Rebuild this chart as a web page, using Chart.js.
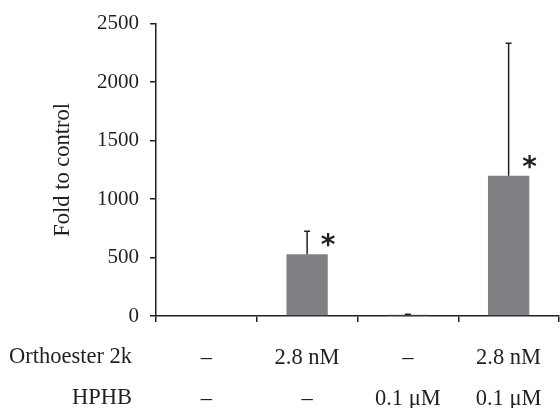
<!DOCTYPE html>
<html>
<head>
<meta charset="utf-8">
<script src="https://cdn.jsdelivr.net/npm/chart.js@4"></script>
<style>
  html, body { margin: 0; padding: 0; background: #fff; }
  #wrap { width: 560px; height: 408px; }
</style>
</head>
<body>
<div id="wrap"><canvas id="myChart" width="560" height="408"></canvas></div>
<script>
// data
const groups = ['g1', 'g2', 'g3', 'g4'];
const orthoester = ['–', '2.8 nM', '–', '2.8 nM'];
const hphb = ['–', '–', '0.1 μM', '0.1 μM'];
const foldValues = [0, 527, 10, 1200];
const foldErrors = [0, 198, 6, 1133];
const significant = [false, true, false, true];
const yTicks = [0, 500, 1000, 1500, 2000, 2500];
const rowNames = ['Orthoester 2k', 'HPHB'];

const ink = '#231f20';
const serif = '"Liberation Serif", "Times New Roman", serif';

// error bars (upward only), asterisks and the row names
const extras = {
  id: 'extras',
  afterDatasetsDraw(chart) {
    const c = chart.ctx;
    const meta = chart.getDatasetMeta(0);
    const y = chart.scales.y;
    c.save();
    c.strokeStyle = ink;
    c.lineWidth = 1.5;
    meta.data.forEach((bar, i) => {
      if (!foldErrors[i]) return;
      const top = y.getPixelForValue(foldValues[i] + foldErrors[i]);
      c.beginPath();
      c.moveTo(bar.x, bar.y);
      c.lineTo(bar.x, top);
      c.moveTo(bar.x - 3, top);
      c.lineTo(bar.x + 3, top);
      c.stroke();
    });
    c.fillStyle = ink;
    c.font = 'bold 28px "DejaVu Sans"';
    c.textAlign = 'center';
    c.textBaseline = 'alphabetic';
    const m = c.measureText('*');
    const mid = (m.actualBoundingBoxAscent - m.actualBoundingBoxDescent) / 2;
    meta.data.forEach((bar, i) => {
      if (!significant[i]) return;
      c.fillText('*', bar.x + 21, bar.y - 14 + mid);
    });
    c.font = '22.5px ' + serif;
    c.textAlign = 'right';
    c.textBaseline = 'middle';
    c.fillText(rowNames[0], 132, 357);
    c.fillText(rowNames[1], 132, 398);
    c.restore();
  }
};

const ctx = document.getElementById('myChart');

const myChart = new Chart(ctx, {
  type: 'bar',
  data: {
    labels: groups,
    datasets: [{
      data: foldValues,
      backgroundColor: '#808185',
      borderWidth: 0,
      categoryPercentage: 1,
      barPercentage: 0.41
    }]
  },
  options: {
    responsive: false,
    animation: false,
    layout: { padding: { top: 22, right: 1, left: 0, bottom: 0 } },
    plugins: { legend: { display: false }, tooltip: { enabled: false } },
    scales: {
      x: {
        offset: true,
        border: { color: ink, width: 1.5 },
        grid: { display: true, offset: true, drawOnChartArea: false, color: ink, lineWidth: 1.5, tickLength: 6 },
        ticks: {
          color: ink,
          font: { family: serif, size: 22.5, lineHeight: 1.8 },
          padding: 16,
          maxRotation: 0,
          autoSkip: false,
          callback: (v, i) => [orthoester[i], hphb[i]]
        },
        afterFit(scale) { scale.height = 92; }
      },
      y: {
        min: 0,
        max: 2500,
        border: { color: ink, width: 1.5 },
        grid: { display: true, drawOnChartArea: false, color: ink, lineWidth: 1.5, tickLength: 6 },
        afterBuildTicks(scale) { scale.ticks = yTicks.map(v => ({ value: v })); },
        ticks: { color: ink, font: { family: serif, size: 21 }, padding: 11, callback: v => String(v) },
        title: {
          display: true,
          text: 'Fold to control',
          color: ink,
          font: { family: serif, size: 22.5 },
          padding: { top: 50, bottom: 0 }
        },
        afterFit(scale) { scale.width = 156; }
      }
    }
  },
  plugins: [extras]
});
</script>
</body>
</html>
